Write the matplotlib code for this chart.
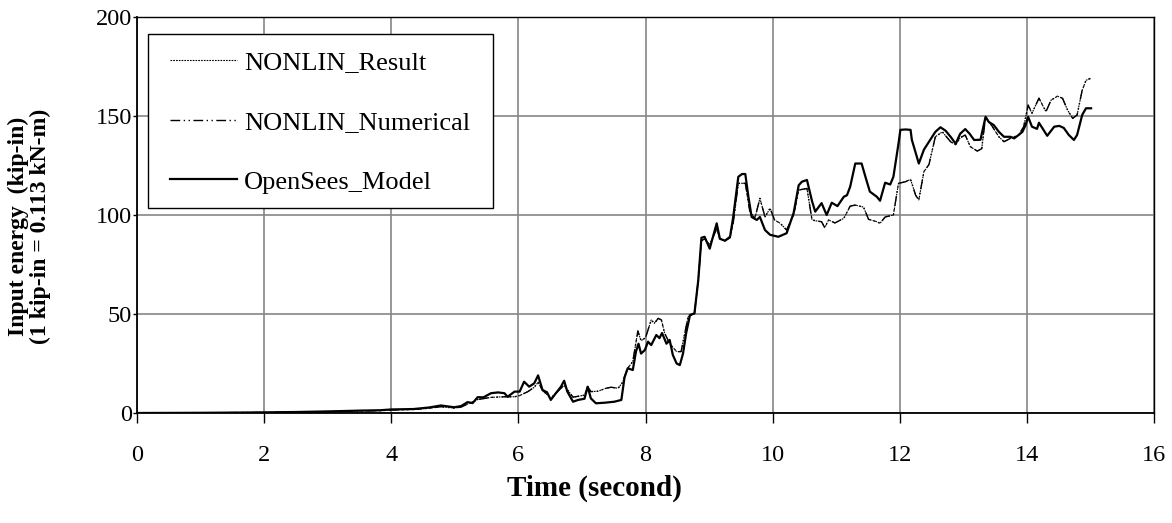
import matplotlib
matplotlib.use("Agg")
import matplotlib.pyplot as plt
from matplotlib.patches import Rectangle

# ---- data ----
time_opensees = [0.0, 1.0, 2.0, 2.5, 3.0, 3.5, 3.83, 4.0, 4.35, 4.6, 4.78, 4.99, 5.1, 5.2, 5.28,
                 5.36, 5.45, 5.57, 5.68, 5.78, 5.83, 5.94, 6.02, 6.09, 6.17, 6.25, 6.31, 6.38,
                 6.45, 6.51, 6.59, 6.67, 6.72, 6.77, 6.86, 6.94, 7.04, 7.09, 7.14, 7.22, 7.36,
                 7.51, 7.62, 7.67, 7.72, 7.80, 7.85, 7.89, 7.93, 7.99, 8.04, 8.09, 8.17, 8.22,
                 8.26, 8.33, 8.38, 8.43, 8.49, 8.54, 8.59, 8.64, 8.70, 8.77, 8.83, 8.88, 8.93,
                 9.01, 9.12, 9.17, 9.25, 9.33, 9.38, 9.46, 9.52, 9.57, 9.62, 9.67, 9.75, 9.80,
                 9.88, 9.96, 10.09, 10.22, 10.33, 10.41, 10.46, 10.54, 10.62, 10.67, 10.77,
                 10.85, 10.93, 11.02, 11.12, 11.17, 11.22, 11.30, 11.40, 11.46, 11.53, 11.64,
                 11.69, 11.77, 11.85, 11.90, 11.98, 12.01, 12.09, 12.17, 12.19, 12.27, 12.30,
                 12.38, 12.46, 12.56, 12.64, 12.72, 12.80, 12.88, 12.95, 13.03, 13.10, 13.17,
                 13.27, 13.35, 13.40, 13.48, 13.56, 13.64, 13.74, 13.80, 13.87, 13.93, 13.98,
                 14.02, 14.08, 14.16, 14.19, 14.32, 14.43, 14.51, 14.58, 14.66, 14.74, 14.79,
                 14.87, 14.93, 15.01]
energy_opensees = [0.0, 0.1, 0.3, 0.5, 0.8, 1.2, 1.4, 1.8, 2.0, 2.8, 3.8, 2.9, 3.5, 5.5, 5.0,
                   8.0, 7.9, 10.0, 10.4, 10.0, 8.2, 10.8, 10.8, 15.8, 13.3, 15.0, 19.0, 11.6,
                   10.5, 6.6, 10.0, 13.3, 16.3, 10.8, 5.7, 6.6, 7.2, 13.3, 7.4, 4.9, 5.2,
                   5.7, 6.6, 18.0, 22.6, 21.7, 31.0, 35.0, 30.0, 31.8, 36.0, 34.3, 39.4, 37.8,
                   40.4, 35.0, 36.9, 29.3, 25.0, 24.2, 30.0, 40.4, 49.5, 50.3, 67.0, 88.5, 89.0,
                   83.0, 95.8, 88.0, 87.0, 89.0, 99.0, 119.3, 120.7, 120.7, 109.0, 99.0, 97.5,
                   99.0, 92.4, 90.0, 89.0, 90.8, 101.0, 115.0, 116.8, 117.7, 107.0, 101.7, 106.0,
                   100.0, 106.2, 104.5, 109.2, 110.0, 114.3, 126.0, 126.0, 119.3, 111.8, 109.2,
                   107.2, 116.3, 115.4, 119.3, 136.0, 143.0, 143.2, 143.0, 138.0, 129.4, 126.0,
                   133.0, 137.0, 142.0, 144.3, 142.6, 139.5, 136.0, 141.0, 143.4, 141.0, 137.9,
                   138.0, 149.6, 147.0, 145.4, 142.0, 139.5, 139.5, 138.7, 140.4, 142.0, 145.4,
                   149.6, 144.6, 143.5, 146.6, 140.0, 144.6, 145.0, 144.0, 140.4, 137.9, 140.4,
                   150.5, 153.9, 153.9]

time_nonlin = [0.0, 1.0, 2.0, 2.5, 3.0, 3.5, 3.83, 4.0, 4.35, 4.6, 4.78, 4.99, 5.1, 5.2, 5.36,
               5.57, 5.78, 5.94, 6.02, 6.15, 6.25, 6.31, 6.38, 6.51, 6.67, 6.72, 6.86, 7.04,
               7.09, 7.14, 7.25, 7.38, 7.46, 7.57, 7.64, 7.72, 7.80, 7.88, 7.93, 8.00, 8.09,
               8.14, 8.20, 8.25, 8.30, 8.38, 8.49, 8.56, 8.67, 8.77, 8.83, 8.88, 8.93, 9.01,
               9.12, 9.17, 9.25, 9.33, 9.38, 9.46, 9.57, 9.64, 9.72, 9.80, 9.88, 9.96, 10.03,
               10.12, 10.22, 10.33, 10.41, 10.54, 10.62, 10.69, 10.77, 10.82, 10.88, 10.98,
               11.12, 11.22, 11.30, 11.43, 11.51, 11.64, 11.69, 11.77, 11.90, 11.98, 12.09,
               12.17, 12.25, 12.30, 12.38, 12.46, 12.56, 12.67, 12.80, 12.88, 12.95, 13.03,
               13.11, 13.22, 13.29, 13.35, 13.45, 13.56, 13.64, 13.74, 13.87, 13.95, 14.02,
               14.08, 14.19, 14.30, 14.38, 14.48, 14.56, 14.64, 14.72, 14.79, 14.87, 14.93,
               15.00]
energy_nonlin_result = [0.0, 0.1, 0.3, 0.5, 0.7, 1.0, 1.2, 1.5, 1.8, 2.4, 3.2, 2.5, 3.0, 4.5,
                        6.8, 7.9, 8.2, 8.2, 8.8, 10.8, 13.0, 15.5, 11.5, 7.5, 12.5, 14.0, 8.0,
                        9.0, 13.3, 10.8, 11.0, 12.5, 13.0, 12.5, 15.5, 22.6, 26.0, 41.4, 36.5,
                        38.0, 47.0, 45.3, 47.8, 47.0, 40.4, 35.0, 31.0, 31.0, 48.6, 50.3,
                        67.0, 87.0, 88.0, 85.0, 93.0, 88.0, 87.0, 88.5, 96.0, 116.0, 116.0,
                        102.0, 98.3, 108.4, 99.0, 103.4, 97.5, 95.8, 92.4, 100.0, 112.6, 113.4,
                        97.5, 97.0, 96.6, 93.6, 97.5, 96.0, 98.3, 104.5, 105.0, 104.0, 97.8,
                        96.6, 95.8, 99.0, 100.0, 116.0, 116.8, 118.0, 110.0, 107.6, 121.9,
                        125.5, 139.5, 142.0, 137.0, 135.5, 139.0, 140.4, 134.5, 132.3, 133.5,
                        149.6, 145.0, 139.5, 137.0, 138.7, 140.4, 144.6, 155.5, 151.4, 159.0,
                        152.2, 158.0, 160.0, 159.0, 153.0, 148.8, 150.5, 163.0, 168.0, 169.0]
energy_nonlin_numerical = [0.0, 0.1, 0.3, 0.5, 0.7, 1.0, 1.2, 1.5, 1.8, 2.4, 3.2, 2.5, 3.0,
                           4.5, 6.8, 7.9, 8.2, 8.2, 8.8, 10.8, 13.0, 15.5, 11.5, 7.5, 12.5,
                           14.0, 8.0, 9.0, 13.3, 10.8, 11.0, 12.5, 13.0, 12.5, 15.5, 22.6,
                           26.0, 41.4, 36.5, 38.0, 47.0, 45.3, 47.8, 47.0, 40.4, 35.0, 31.0,
                           31.0, 48.6, 50.3, 67.0, 87.0, 88.0, 85.0, 93.0, 88.0, 87.0, 88.5,
                           96.0, 116.0, 116.0, 102.0, 98.3, 108.4, 99.0, 103.4, 97.5, 95.8,
                           92.4, 100.0, 112.6, 113.4, 97.5, 97.0, 96.6, 93.6, 97.5, 96.0,
                           98.3, 104.5, 105.0, 104.0, 97.8, 96.6, 95.8, 99.0, 100.0, 116.0,
                           116.8, 118.0, 110.0, 107.6, 121.9, 125.5, 139.5, 142.0, 137.0,
                           135.5, 139.0, 140.4, 134.5, 132.3, 133.5, 149.6, 145.0, 139.5,
                           137.0, 138.7, 140.4, 144.6, 155.5, 151.4, 159.0, 152.2, 158.0,
                           160.0, 159.0, 153.0, 148.8, 150.5, 163.0, 168.0, 169.0]

series_labels = ["NONLIN_Result", "NONLIN_Numerical", "OpenSees_Model"]
x_ticks = [0, 2, 4, 6, 8, 10, 12, 14, 16]
y_ticks = [0, 50, 100, 150, 200]
x_label = "Time (second)"
y_label = "Input energy  (kip-in)\n(1 kip-in = 0.113 kN-m)"

# ---- figure ----
plt.rcParams['font.family'] = ['Liberation Serif', 'DejaVu Serif']
W, H = 1172, 523
fig = plt.figure(figsize=(W / 100, H / 100), dpi=100)
ax = fig.add_axes([137 / W, 110 / H, (1154 - 137) / W, (413 - 17) / H])

ax.plot(time_nonlin, energy_nonlin_result, color='black', lw=0.8,
        linestyle=(0, (1.5, 1.0)), label=series_labels[0], zorder=3)
ax.plot(time_nonlin, energy_nonlin_numerical, color='black', lw=1.0,
        linestyle=(0, (7, 2.5, 1, 2.5, 1, 2.5)), label=series_labels[1], zorder=3)
ax.plot(time_opensees, energy_opensees, color='black', lw=1.6,
        linestyle='-', label=series_labels[2], zorder=4)

ax.set_xlim(0, 16)
ax.set_ylim(0, 200)
ax.set_xticks(x_ticks)
ax.set_yticks(y_ticks)
ax.grid(True, color='#868686', lw=1.2)
ax.set_axisbelow(True)
for s in ax.spines.values():
    s.set_color('black')
    s.set_linewidth(1.0)
ax.spines['left'].set_linewidth(1.3)
ax.spines['bottom'].set_linewidth(1.3)
ax.tick_params(axis='x', direction='out', length=7, width=1.0, colors='black',
               labelsize=17.5, pad=16)
ax.tick_params(axis='y', direction='out', length=3, width=1.0, colors='black',
               labelsize=17.5, pad=0.5)

fig.text(594 / W, 1 - 488 / H, x_label, fontsize=21, fontweight='bold',
         ha='center', va='center')
fig.text(29 / W, 1 - 226 / H, y_label, fontsize=17, fontweight='bold',
         ha='center', va='center', rotation=90, linespacing=1.05, multialignment='center')

# legend frame (white box with black edge) and entries
frame = Rectangle((148 / W, 1 - 208 / H), (493 - 148) / W, (208 - 34) / H,
                  transform=fig.transFigure, facecolor='white', edgecolor='black',
                  lw=1.0, zorder=5, clip_on=False)
ax.add_patch(frame)
leg = ax.legend(loc='upper left', bbox_to_anchor=(170 / W, 1 - 51 / H),
                bbox_transform=fig.transFigure, frameon=False,
                fontsize=19, handlelength=2.55, handletextpad=0.25,
                labelspacing=1.37, borderpad=0.0, borderaxespad=0)
leg.set_zorder(6)

fig.savefig("out.png", dpi=100)
